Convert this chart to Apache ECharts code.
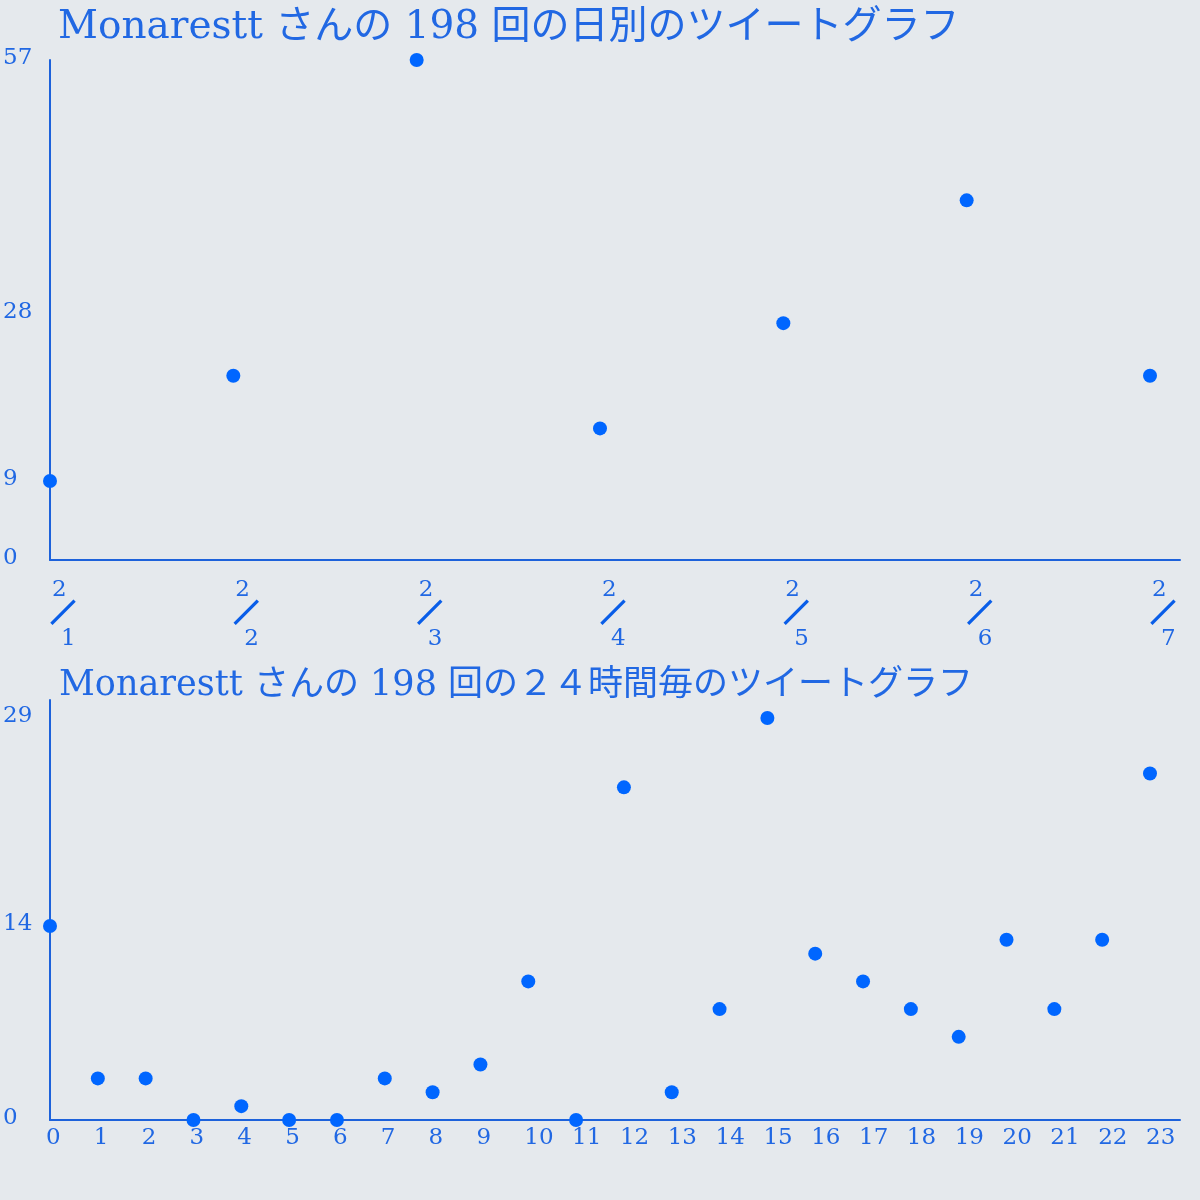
<!DOCTYPE html>
<html>
<head>
<meta charset="utf-8">
<script src="https://cdn.jsdelivr.net/npm/echarts@6/dist/echarts.min.js"></script>
<style>
html,body{margin:0;padding:0;background:#e5e9ed;}
#c{width:1200px;height:1200px;}
</style>
</head>
<body>
<div id="c"></div>
<script>
// ---- data ----
const dailyTitle = 'Monarestt さんの 198 回の日別のツイートグラフ';
const hourlyTitle = 'Monarestt さんの 198 回の２４時間毎のツイートグラフ';
const dayLabels = ['2/1', '2/2', '2/3', '2/4', '2/5', '2/6', '2/7'];
const dayCounts = [9, 21, 57, 15, 27, 41, 21];
const dayYTicks = [0, 9, 28, 57];
const hourLabels = ['0','1','2','3','4','5','6','7','8','9','10','11','12','13','14','15','16','17','18','19','20','21','22','23'];
const hourCounts = [14, 3, 3, 0, 1, 0, 0, 3, 2, 4, 10, 0, 24, 2, 8, 29, 12, 10, 8, 6, 13, 8, 13, 25];
const hourYTicks = [0, 14, 29];

// ---- style ----
const FONT = '"DejaVu Serif", "Noto Sans CJK JP", serif';
const TXT = '#2168e3';
const AX = '#1d62db';
const DOT = '#0066ff';
const SLASH = '#0a5ee8';

const chart = echarts.init(document.getElementById('c'), null, {renderer: 'canvas'});

function yAxisCfg(maxV, ticks, idx) {
  return {
    type: 'value', gridIndex: idx, min: 0, max: maxV,
    splitLine: {show: false},
    axisTick: {show: false},
    axisLine: {show: true, lineStyle: {color: AX, width: 2}},
    axisLabel: {
      customValues: ticks, color: TXT, fontFamily: FONT, fontSize: 23,
      align: 'left', margin: 47, verticalAlign: 'bottom', lineHeight: 4
    }
  };
}

const option = {
  backgroundColor: '#e5e9ed',
  animation: false,
  title: [
    {text: dailyTitle, left: 58, top: 8, padding: 0,
     textStyle: {color: TXT, fontFamily: FONT, fontSize: 39, fontWeight: 'normal'}},
    {text: hourlyTitle, left: 59, top: 668, padding: 0,
     textStyle: {color: TXT, fontFamily: FONT, fontSize: 35, fontWeight: 'normal'}}
  ],
  grid: [
    {left: 50, right: 20, top: 60, height: 500},
    {left: 50, right: 20, top: 700, height: 420}
  ],
  xAxis: [
    {
      type: 'value', gridIndex: 0, min: 0,
      max: function (v) { return (dayLabels.length - 1) * 1130 / 1100; },
      splitLine: {show: false}, axisTick: {show: false},
      axisLine: {show: true, lineStyle: {color: AX, width: 2}},
      axisLabel: {
        customValues: dayLabels.map((d, i) => i),
        align: 'left', margin: 17, color: TXT, fontFamily: FONT,
        formatter: function (v) {
          const parts = dayLabels[Math.round(v)].split('/');
          return '{a|' + parts[0] + '}\n{s|／}\n{b|' + parts[1] + '}';
        },
        rich: {
          a: {fontFamily: FONT, fontSize: 23, color: TXT, lineHeight: 26, padding: [0, 0, 0, 2]},
          s: {fontFamily: '"Noto Sans CJK JP", sans-serif', fontSize: 24, color: SLASH,
              textBorderColor: SLASH, textBorderWidth: 2.2, lineHeight: 18, padding: [0, 0, 0, 1]},
          b: {fontFamily: FONT, fontSize: 23, color: TXT, lineHeight: 36, padding: [0, 0, 0, 11]}
        }
      }
    },
    {
      type: 'value', gridIndex: 1, min: 0,
      max: function (v) { return (hourLabels.length - 1) * 1130 / 1100; },
      splitLine: {show: false}, axisTick: {show: false},
      axisLine: {show: true, lineStyle: {color: AX, width: 2}},
      axisLabel: {
        customValues: hourLabels.map((h, i) => i),
        formatter: function (v) { return hourLabels[Math.round(v)]; },
        align: 'left', margin: 7, color: TXT, fontFamily: FONT, fontSize: 23,
        padding: [0, 0, 0, -4]
      }
    }
  ],
  yAxis: [
    yAxisCfg(57, dayYTicks, 0),
    yAxisCfg(30.3, hourYTicks, 1)
  ],
  series: [
    {
      type: 'scatter', xAxisIndex: 0, yAxisIndex: 0, symbol: 'circle', symbolSize: 14,
      itemStyle: {color: DOT, opacity: 1}, clip: false,
      data: dayCounts.map((v, i) => [i, v])
    },
    {
      type: 'scatter', xAxisIndex: 1, yAxisIndex: 1, symbol: 'circle', symbolSize: 14,
      itemStyle: {color: DOT, opacity: 1}, clip: false,
      data: hourCounts.map((v, i) => [i, v])
    }
  ]
};
chart.setOption(option);
</script>
</body>
</html>
